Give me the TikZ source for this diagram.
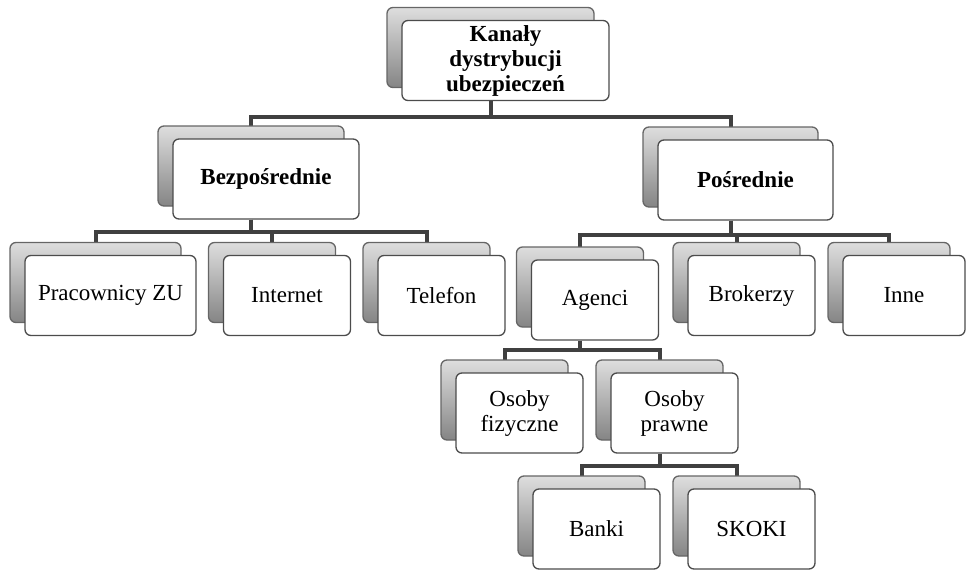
\documentclass[tikz,border=0pt]{standalone}
\usepackage{fontspec}
\setmainfont{Liberation Serif}
\usetikzlibrary{shadows,backgrounds}

\begin{document}
\begin{tikzpicture}[x=1pt,y=-1pt]
\tikzstyle{box}=[rectangle,rounded corners=6pt,draw=black!70,line width=1.3pt,fill=white,
  minimum width=127pt,minimum height=80pt,align=center,font=\fontsize{23}{25}\selectfont,
  copy shadow={shadow xshift=-15pt,shadow yshift=13pt,draw=black!60,top color=black!13,bottom color=black!48}]
\tikzstyle{head}=[box,font=\bfseries\fontsize{23}{25}\selectfont]
\tikzstyle{link}=[draw=black!75,line width=4pt]

\useasboundingbox (0,0) rectangle (966,570);

\node[head,minimum width=207pt] (kanaly) at (505.5,60.5) {Kanały\\dystrybucji\\ubezpieczeń};
\node[head,minimum width=186pt] (bez) at (266,179) {Bezpośrednie};
\node[head,minimum width=175pt] (pos) at (745.5,180) {Pośrednie};

\node[box,minimum width=171pt] (prac) at (110.5,295.5) {Pracownicy ZU};
\node[box] (inter) at (287,295.5) {Internet};
\node[box] (tel) at (441.5,295.5) {Telefon};

\node[box] (agenci) at (595,300) {Agenci};
\node[box] (brok) at (751.5,295.5) {Brokerzy};
\node[box,minimum width=122pt] (inne) at (904,295.5) {Inne};

\node[box] (fiz) at (519.5,413) {Osoby\\fizyczne};
\node[box] (praw) at (674.5,413) {Osoby\\prawne};

\node[box] (banki) at (596.5,529) {Banki};
\node[box] (skoki) at (751.5,529) {SKOKI};

% connectors behind the boxes
\begin{scope}[on background layer]
\draw[link] ([xshift=-15pt]kanaly.south) -- ++(0,16) -| ([xshift=-15pt]bez.north);
\draw[link] ([xshift=-15pt]kanaly.south) -- ++(0,16) -| ([xshift=-15pt]pos.north);

\draw[link] ([xshift=-15pt]bez.south) -- ++(0,12) -| ([xshift=-15pt]prac.north);
\draw[link] ([xshift=-15pt]bez.south) -- ++(0,12) -| ([xshift=-15pt]inter.north);
\draw[link] ([xshift=-15pt]bez.south) -- ++(0,12) -| ([xshift=-15pt]tel.north);

\draw[link] ([xshift=-15pt]pos.south) -- ++(0,14) -| ([xshift=-15pt]agenci.north);
\draw[link] ([xshift=-15pt]pos.south) -- ++(0,14) -| ([xshift=-15pt]brok.north);
\draw[link] ([xshift=-15pt]pos.south) -- ++(0,14) -| ([xshift=-15pt]inne.north);

\draw[link] ([xshift=-15pt]agenci.south) -- ++(0,9) -| ([xshift=-15pt]fiz.north);
\draw[link] ([xshift=-15pt]agenci.south) -- ++(0,9) -| ([xshift=-15pt]praw.north);

\draw[link] ([xshift=-15pt]praw.south) -- ++(0,12) -| ([xshift=-15pt]banki.north);
\draw[link] ([xshift=-15pt]praw.south) -- ++(0,12) -| ([xshift=-15pt]skoki.north);
\end{scope}

\end{tikzpicture}
\end{document}
